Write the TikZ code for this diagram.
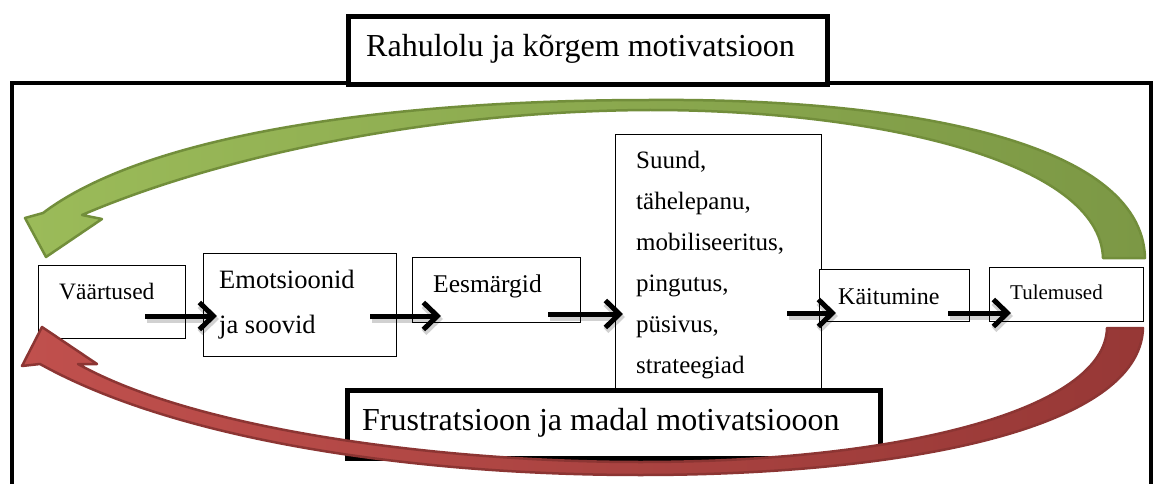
\documentclass[tikz,border=0pt]{standalone}
\usepackage{fontspec}
\setmainfont{Liberation Serif}
\usetikzlibrary{arrows.meta}
\definecolor{gfill}{HTML}{9BBB59}
\definecolor{gfilltwo}{HTML}{7C9845}
\definecolor{gline}{HTML}{728E3B}
\definecolor{rfill}{HTML}{C0504D}
\definecolor{rfilltwo}{HTML}{973836}
\definecolor{rline}{HTML}{8C3533}
\begin{document}
\begin{tikzpicture}[x=1pt,y=-1pt,
  thinbox/.style={draw=black, line width=1.1pt, fill=white, inner sep=0pt, anchor=north west},
  thickbox/.style={draw=black, line width=5pt, fill=white, inner sep=0pt, anchor=north west},
  lbl/.style={anchor=base west, inner sep=0pt},
  flowarrow/.style={draw=black, line width=5pt, -{Straight Barb[length=14pt,width=27pt]}},
  flowshadow/.style={draw=black, opacity=0.18, line width=7pt, -{Straight Barb[length=14pt,width=27pt]}, transform canvas={shift={(2pt,-3pt)}}},
  band/.style={line width=2.5pt, line join=round}
]
\useasboundingbox (0,0) rectangle (1160,484);
\fill[white] (0,0) rectangle (1160,484);

% outer frame
\draw[line width=4.5pt] (12,490) -- (12,83) -- (1151,83) -- (1151,490);

% top title box
\node[thickbox, minimum width=479pt, minimum height=68pt] (top) at (345.5,14.5) {};
\node[lbl, font=\fontsize{32}{38}\selectfont] (toptxt) at (366,57) {Rahulolu ja kõrgem motivatsioon};

% green curved arrow
\path[band, draw=gline, left color=gfill, right color=gfilltwo]
 (25,218) -- (46,257) -- (102,219) -- (82,215)
 .. controls (210,160) and (420,111) .. (650,110)
 .. controls (880,110) and (1100,162) .. (1103,258)
 -- (1145,258)
 .. controls (1142,140) and (900,98) .. (650,100)
 .. controls (400,100) and (150,132) .. (43,213)
 -- cycle;

% process boxes
\node[thinbox, minimum width=147pt, minimum height=73pt] (v) at (38,265) {};
\node[lbl, font=\fontsize{23.5}{28}\selectfont] (vt) at (59,299) {Väärtused};

\node[thinbox, minimum width=193pt, minimum height=103pt] (e) at (203,253) {};
\node[lbl, font=\fontsize{26.5}{32}\selectfont] (et1) at (219,288) {Emotsioonid};
\node[lbl, font=\fontsize{26.5}{32}\selectfont] (et2) at (219,333) {ja soovid};

\node[thinbox, minimum width=168pt, minimum height=65pt] (g) at (412,257) {};
\node[lbl, font=\fontsize{25.5}{30}\selectfont] (gt) at (433,292) {Eesmärgid};

\node[thinbox, minimum width=206pt, minimum height=257pt] (s) at (615,134) {};
\foreach \t [count=\i] in {{Suund,},{tähelepanu,},{mobiliseeritus,},{pingutus,},{püsivus,},{strateegiad}}{
  \node[lbl, font=\fontsize{25}{30}\selectfont] (st\i) at (636,127+41*\i) {\t};
}

\node[thinbox, minimum width=150pt, minimum height=52pt] (k) at (819,269) {};
\node[lbl, font=\fontsize{24}{29}\selectfont] (kt) at (838,304) {Käitumine};

\node[thinbox, minimum width=154pt, minimum height=54pt] (t) at (989,267) {};
\node[lbl, font=\fontsize{21}{25}\selectfont] (tt) at (1010,299) {Tulemused};

% bottom box
\node[thickbox, minimum width=533pt, minimum height=68.5pt] (fr) at (345,387.5) {};
\node[lbl, font=\fontsize{32}{38}\selectfont] (frtxt) at (362,430) {Frustratsioon ja madal motivatsiooon};

% red curved arrow
\path[band, draw=rline, left color=rfill, right color=rfilltwo]
 (42,327) -- (97,364) -- (78,364)
 .. controls (200,432) and (450,462) .. (640,462)
 .. controls (900,462) and (1105,410) .. (1107,328)
 -- (1143,328)
 .. controls (1140,430) and (900,475) .. (640,475)
 .. controls (420,475) and (180,442) .. (40,364)
 -- (22,366) -- cycle;

% flow arrows
\coordinate (a1s) at (145,316); \coordinate (a1e) at (217,316);
\coordinate (a2s) at (370,316); \coordinate (a2e) at (441,316);
\coordinate (a3s) at (548,314); \coordinate (a3e) at (623,314);
\coordinate (a4s) at (787,313); \coordinate (a4e) at (836,313);
\coordinate (a5s) at (948,313); \coordinate (a5e) at (1011,313);
\foreach \i in {1,...,5}{
  \draw[flowshadow] (a\i s) -- (a\i e);
}
\foreach \i in {1,...,5}{
  \draw[flowarrow] (a\i s) -- (a\i e);
}
\end{tikzpicture}
\end{document}
